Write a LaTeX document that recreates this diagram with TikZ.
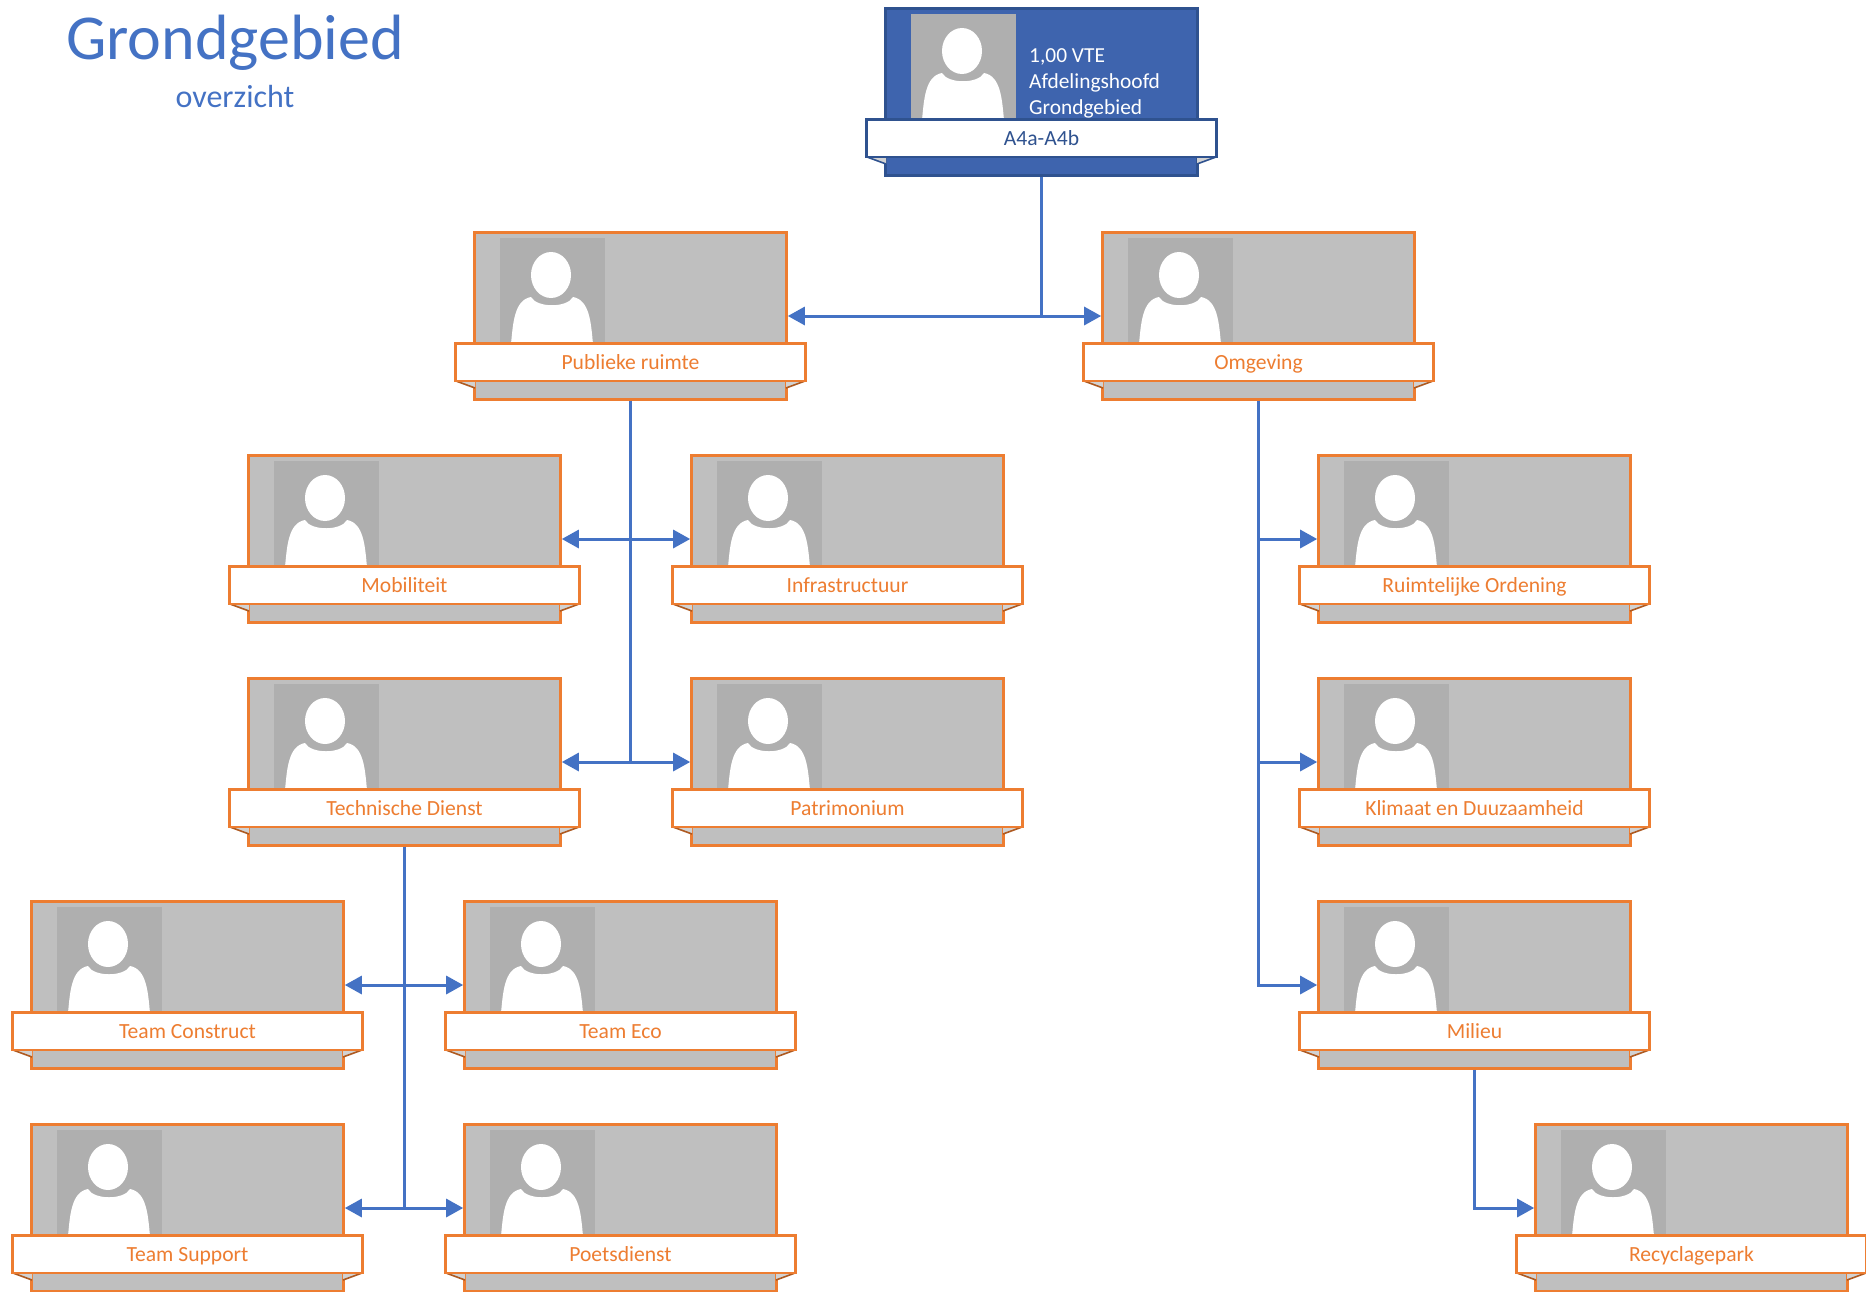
\documentclass[tikz,border=0pt]{standalone}
\usepackage{fontspec}
\setmainfont{Carlito}
\usepackage{xcolor}
\usetikzlibrary{arrows.meta}
\definecolor{mainblue}{RGB}{68,114,196}
\definecolor{mainorange}{RGB}{237,125,49}
\definecolor{darkorange}{RGB}{174,90,33}
\definecolor{headblue}{RGB}{47,82,143}
\definecolor{headfill}{RGB}{62,100,174}
\definecolor{cardgrey}{RGB}{191,191,191}
\definecolor{photogrey}{RGB}{175,175,175}
\tikzset{
	cardbox/.style={draw=mainorange,fill=cardgrey,line width=2.6pt,minimum width=312pt,minimum height=167pt,inner sep=0pt,anchor=north west},
	photobox/.style={fill=photogrey,minimum width=105pt,minimum height=106pt,inner sep=0pt,anchor=north west},
	bannerbox/.style={draw=mainorange,fill=white,text=mainorange,line width=2.6pt,minimum width=350pt,minimum height=37.5pt,inner sep=0pt,anchor=north,text height=16.4pt,text depth=1.6pt,font=\fontsize{21.6}{26}\selectfont},
	foldfill/.style={fill=cardgrey!70!white},
	foldline/.style={draw=darkorange,line width=1.6pt},
	link/.style={draw=mainblue,line width=3pt,-{Triangle[length=17pt,width=18pt]}}
}
% one staff card: name, left, top, label
\newcommand{\staffcard}[4]{
	\node[cardbox] (#1) at (#2-0.8,#3-0.8) {};
	\node[photobox] (#1photo) at (#2+26,#3+6) {};
	\fill[white] (#2+77,#3+43) circle [x radius=20,y radius=23];
	\fill[white] (#2+37,#3+112) .. controls (#2+39,#3+92) and (#2+40,#3+68) .. (#2+57,#3+65)
		.. controls (#2+63,#3+76) and (#2+93,#3+76) .. (#2+99,#3+65)
		.. controls (#2+116,#3+68) and (#2+117,#3+92) .. (#2+119,#3+112) -- cycle;
	\fill[foldfill] (#2-18,#3+149) -- (#2+1,#3+156) -- (#2+1,#3+149) -- cycle;
	\fill[foldfill] (#2+331,#3+149) -- (#2+312,#3+156) -- (#2+312,#3+149) -- cycle;
	\draw[foldline] (#2-18,#3+149) -- (#2+1,#3+156);
	\draw[foldline] (#2+331,#3+149) -- (#2+312,#3+156);
	\node[bannerbox] (#1banner) at (#2+156.5,#3+110) {#4};
}

\begin{document}
\begin{tikzpicture}[x=1pt,y=-1pt]
	\useasboundingbox (0,0) rectangle (1866,1291);
	\node[text=mainblue,font=\fontsize{64}{70}\selectfont] (title) at (235,43) {Grondgebied};
	\node[text=mainblue,font=\fontsize{32}{36}\selectfont] (subtitle) at (235,97) {overzicht};

	\begin{scope}[cardbox/.append style={draw=headblue,fill=headfill},
		bannerbox/.append style={draw=headblue,text=headblue},
		foldline/.append style={draw=headblue}]
		\staffcard{head}{885}{8}{A4a-A4b}
	\end{scope}
	\node[text=white,align=left,anchor=north west,inner sep=0pt,font=\fontsize{21.4}{26}\selectfont] (headinfo) at (1029,48) {1,00 VTE\\Afdelingshoofd\\Grondgebied};

	\foreach \cardname/\cardx/\cardy/\cardlabel in {
		pub/474/232/Publieke ruimte,
		omg/1102/232/Omgeving,
		mob/248/455/Mobiliteit,
		infra/691/455/Infrastructuur,
		ruimte/1318/455/Ruimtelijke Ordening,
		tech/248/678/Technische Dienst,
		patri/691/678/Patrimonium,
		klimaat/1318/678/Klimaat en Duuzaamheid,
		constr/31/901/Team Construct,
		eco/464/901/Team Eco,
		milieu/1318/901/Milieu,
		support/31/1124/Team Support,
		poets/464/1124/Poetsdienst,
		recycle/1535/1124/Recyclagepark}
		{\staffcard{\cardname}{\cardx}{\cardy}{\cardlabel}}

	% connectors
	\draw[link] (head.south) |- (pub.east);
	\draw[link] (head.south) |- (omg.west);
	\foreach \target/\side in {mob/east,infra/west,tech/east,patri/west}
		\draw[link] (pub.south) |- (\target.\side);
	\foreach \target in {ruimte,klimaat,milieu}
		\draw[link] (omg.south) |- (\target.west);
	\foreach \target/\side in {constr/east,eco/west,support/east,poets/west}
		\draw[link] (tech.south) |- (\target.\side);
	\draw[link] (milieu.south) |- (recycle.west);
\end{tikzpicture}
\end{document}
